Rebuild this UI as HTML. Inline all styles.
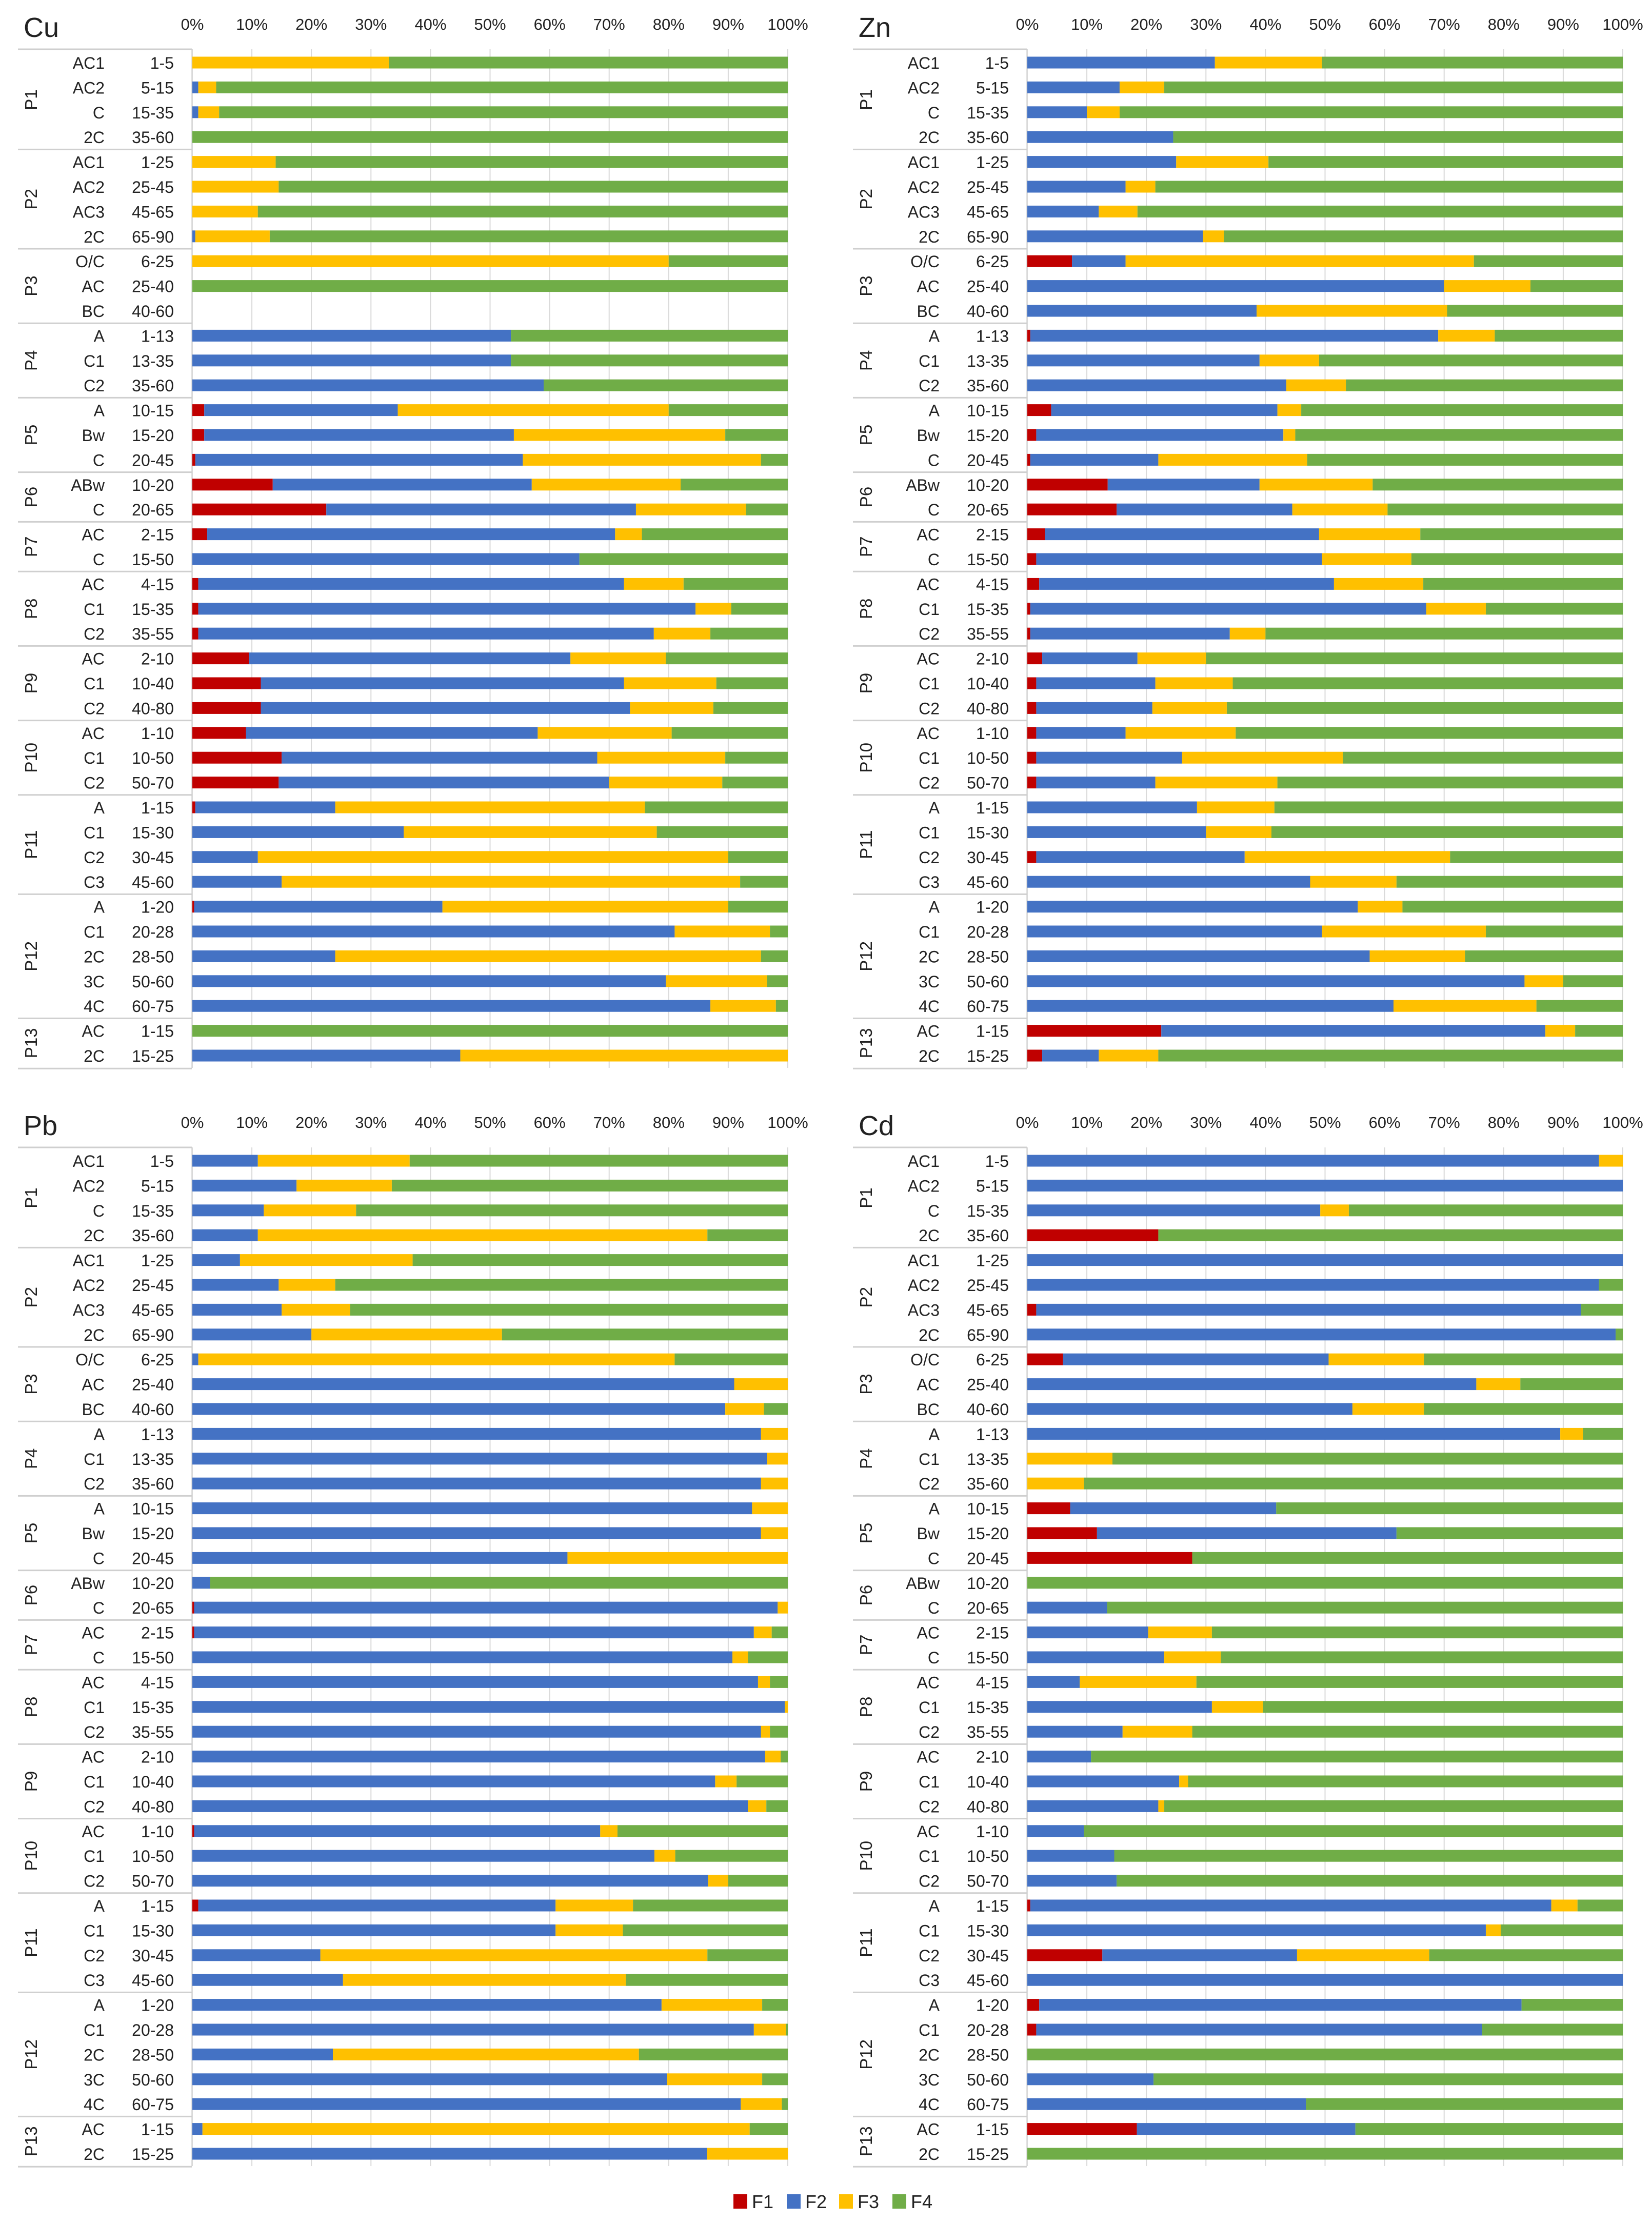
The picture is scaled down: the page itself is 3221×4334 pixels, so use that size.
<!DOCTYPE html>
<html><head><meta charset="utf-8">
<style>
html,body{margin:0;padding:0;background:#fff;}
svg{display:block;}
text{font-family:"Liberation Sans Narrow","Liberation Sans",sans-serif;fill:#222;}
</style></head>
<body>
<svg id="chart" width="3221" height="4334" viewBox="0 0 3221 4334" xmlns="http://www.w3.org/2000/svg"></svg>
<script>
const groups = ["P1","P2","P3","P4","P5","P6","P7","P8","P9","P10","P11","P12","P13"];
const groupSizes = [4,4,3,3,3,2,2,3,3,3,4,5,2];
const horizons = ["AC1","AC2","C","2C","AC1","AC2","AC3","2C","O/C","AC","BC","A","C1","C2","A","Bw","C","ABw","C","AC","C","AC","C1","C2","AC","C1","C2","AC","C1","C2","A","C1","C2","C3","A","C1","2C","3C","4C","AC","2C"];
const depths = ["1-5","5-15","15-35","35-60","1-25","25-45","45-65","65-90","6-25","25-40","40-60","1-13","13-35","35-60","10-15","15-20","20-45","10-20","20-65","2-15","15-50","4-15","15-35","35-55","2-10","10-40","40-80","1-10","10-50","50-70","1-15","15-30","30-45","45-60","1-20","20-28","28-50","50-60","60-75","1-15","15-25"];
const tickLabels = ["0%","10%","20%","30%","40%","50%","60%","70%","80%","90%","100%"];
const seriesNames = ["F1","F2","F3","F4"];
const seriesColors = ["#C00000","#4472C4","#FFC000","#70AD47"];

const cuData = [[0,0,33,67],[0,1,3,96],[0,1,3.5,95.5],[0,0,0,100],[0,0,14,86],[0,0,14.5,85.5],[0,0,11,89],[0,0.5,12.5,87],[0,0,80,20],[0,0,0,100],[0,0,0,0],[0,53.5,0,46.5],[0,53.5,0,46.5],[0,59,0,41],[2,32.5,45.5,20],[2,52,35.5,10.5],[0.5,55,40,4.5],[13.5,43.5,25,18],[22.5,52,18.5,7],[2.5,68.5,4.5,24.5],[0,65,0,35],[1,71.5,10,17.5],[1,83.5,6,9.5],[1,76.5,9.5,13],[9.5,54,16,20.5],[11.5,61,15.5,12],[11.5,62,14,12.5],[9,49,22.5,19.5],[15,53,21.5,10.5],[14.5,55.5,19,11],[0.5,23.5,52,24],[0,35.5,42.5,22],[0,11,79,10],[0,15,77,8],[0.3,41.7,48,10],[0,81,16,3],[0,24,71.5,4.5],[0,79.5,17,3.5],[0,87,11,2],[0,0,0,100],[0,45,55,0]];
const znData = [[0,31.5,18,50.5],[0,15.5,7.5,77],[0,10,5.5,84.5],[0,24.5,0,75.5],[0,25,15.5,59.5],[0,16.5,5,78.5],[0,12,6.5,81.5],[0,29.5,3.5,67],[7.5,9,58.5,25],[0,70,14.5,15.5],[0,38.5,32,29.5],[0.5,68.5,9.5,21.5],[0,39,10,51],[0,43.5,10,46.5],[4,38,4,54],[1.5,41.5,2,55],[0.5,21.5,25,53],[13.5,25.5,19,42],[15,29.5,16,39.5],[3,46,17,34],[1.5,48,15,35.5],[2,49.5,15,33.5],[0.5,66.5,10,23],[0.5,33.5,6,60],[2.5,16,11.5,70],[1.5,20,13,65.5],[1.5,19.5,12.5,66.5],[1.5,15,18.5,65],[1.5,24.5,27,47],[1.5,20,20.5,58],[0,28.5,13,58.5],[0,30,11,59],[1.5,35,34.5,29],[0,47.5,14.5,38],[0,55.5,7.5,37],[0,49.5,27.5,23],[0,57.5,16,26.5],[0,83.5,6.5,10],[0,61.5,24,14.5],[22.5,64.5,5,8],[2.5,9.5,10,78]];
const pbData = [[0,11,25.5,63.5],[0,17.5,16,66.5],[0,12,15.5,72.5],[0,11,75.5,13.5],[0,8,29,63],[0,14.5,9.5,76],[0,15,11.5,73.5],[0,20,32,48],[0,1,80,19],[0,91,9,0],[0,89.5,6.5,4],[0,95.5,4.5,0],[0,96.5,3.5,0],[0,95.5,4.5,0],[0,94,6,0],[0,95.5,4.5,0],[0,63,37,0],[0,3,0,97],[0.3,98,1.7,0],[0.3,94,3,2.7],[0,90.7,2.6,6.7],[0,95,2,3],[0,99.5,0.5,0],[0,95.5,1.5,3],[0,96.2,2.6,1.2],[0,87.8,3.6,8.6],[0,93.3,3.1,3.6],[0.3,68.2,2.9,28.6],[0,77.6,3.5,18.9],[0,86.6,3.4,10],[1,60,13,26],[0,61,11.3,27.7],[0,21.5,65,13.5],[0,25.3,47.5,27.2],[0,78.8,16.9,4.3],[0,94.3,5.4,0.3],[0,23.6,51.4,25],[0,79.7,16,4.3],[0,92.1,6.9,1],[0,1.7,91.9,6.4],[0,86.4,13.6,0]];
const cdData = [[0,96,4,0],[0,100,0,0],[0,49.2,4.8,46],[22,0,0,78],[0,100,0,0],[0,96,0,4],[1.5,91.5,0,7],[0,98.8,0,1.2],[6,44.6,16,33.4],[0,75.4,7.4,17.2],[0,54.6,12,33.4],[0,89.5,3.8,6.7],[0,0,14.3,85.7],[0,0,9.5,90.5],[7.2,34.6,0,58.2],[11.7,50.3,0,38],[27.7,0,0,72.3],[0,0,0,100],[0,13.4,0,86.6],[0,20.3,10.7,69],[0,23,9.5,67.5],[0,8.8,19.6,71.6],[0,31,8.6,60.4],[0,16,11.7,72.3],[0,10.7,0,89.3],[0,25.5,1.5,73],[0,22,1,77],[0,9.5,0,90.5],[0,14.6,0,85.4],[0,15,0,85],[0.5,87.5,4.4,7.6],[0,77,2.5,20.5],[12.6,32.7,22.2,32.5],[0,100,0,0],[2,81,0,17],[1.5,74.9,0,23.6],[0,0,0,100],[0,21.2,0,78.8],[0,46.8,0,53.2],[18.4,36.7,0,44.9],[0,0,0,100]];

const panelNames = ["Cu","Zn","Pb","Cd"];
const panelData = [cuData, znData, pbData, cdData];

const NS = "http://www.w3.org/2000/svg";
const svg = document.getElementById("chart");
function mk(tag, attrs, parent, txt) {
  const e = document.createElementNS(NS, tag);
  for (const k in attrs) e.setAttribute(k, attrs[k]);
  if (txt !== undefined) e.textContent = txt;
  (parent || svg).appendChild(e);
  return e;
}
const PLOT_W = 1161, ROW = 48.4, BAR_H = 23;
const offsets = [[0,0],[1628,0],[0,2141],[1628,2141]];

panelNames.forEach((name, p) => {
  const [dx, dy] = offsets[p];
  const x0 = 375 + dx, top = 96 + dy;
  const nRows = horizons.length;
  const bottom = top + 26 + (nRows - 1) * ROW + 24;
  const xScale = v => x0 + v / 100 * PLOT_W;
  const yRow = i => top + 26 + i * ROW;

  const g = mk("g", {}, svg);
  
  

  const title = mk("text", {x: 46 + dx, y: 72 + dy, "font-size": 54}, g, name);
  
  

  tickLabels.forEach((t, k) => {
    const gx = xScale(k * 10);
    const gl = mk("line", {x1: gx, x2: gx, y1: top, y2: bottom, stroke: "#d9d9d9", "stroke-width": 2}, g);
    
    
    const tl = mk("text", {x: gx, y: 58 + dy, "font-size": 31, "text-anchor": "middle"}, g, t);
    
    
  });

  // category axis frame
  const fx0 = 35 + dx, fx1 = 374 + dx;
  const vline = mk("line", {x1: fx1 - 1, x2: fx1 - 1, y1: top, y2: bottom, stroke: "#e3e3e3", "stroke-width": 2}, g);
  
  
  let r = 0;
  const sepYs = [top];
  groups.forEach((gn, gi) => {
    const n = groupSizes[gi];
    const cy = (yRow(r) + yRow(r + n - 1)) / 2;
    const gl = mk("text", {x: 0, y: 0, "font-size": 33, "text-anchor": "middle", transform: `translate(${72 + dx},${cy}) rotate(-90)`}, g, gn);
    
    
    r += n;
    sepYs.push(yRow(r - 1) + ROW / 2 + (gi === groups.length - 1 ? 1 : 0));
  });
  sepYs.forEach(sy => {
    const l = mk("line", {x1: fx0, x2: fx1, y1: sy, y2: sy, stroke: "#cfcfcf", "stroke-width": 3}, g);
    
    
  });

  const data = panelData[p];
  horizons.forEach((h, i) => {
    const cy = yRow(i);
    const hl = mk("text", {x: 204 + dx, y: cy + 12, "font-size": 32, "text-anchor": "end"}, g, h);
    
    
    const dl = mk("text", {x: 339 + dx, y: cy + 12, "font-size": 32, "text-anchor": "end"}, g, depths[i]);
    
    
    let acc = 0;
    data[i].forEach((v, s) => {
      if (v > 0) {
        const rect = mk("rect", {x: xScale(acc), y: cy - BAR_H / 2, width: xScale(acc + v) - xScale(acc), height: BAR_H, fill: seriesColors[s]}, g);
        
        
      }
      acc += v;
    });
  });
});

// legend
const legX = [1430, 1534, 1636, 1740];
const lg = mk("g", {}, svg);


seriesNames.forEach((s, i) => {
  const sw = mk("rect", {x: legX[i], y: 4278, width: 27, height: 28, fill: seriesColors[i]}, lg);
  
  
  const t = mk("text", {x: legX[i] + 36, y: 4305, "font-size": 36}, lg, s);
  
  
});
</script>
</body></html>
